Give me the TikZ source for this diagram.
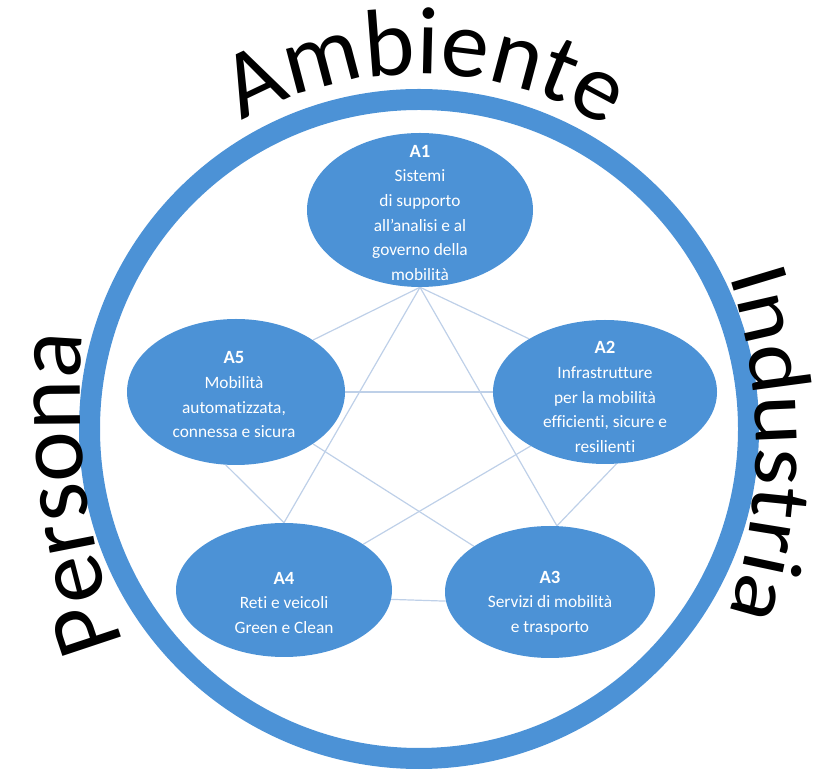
\documentclass[tikz,border=0pt]{standalone}
\usepackage{fontspec}
\setmainfont{Carlito}[Ligatures=NoCommon]
\newfontfamily\curvefont{Carlito}[Ligatures=NoCommon]
\newfontfamily\widecurvefont{Carlito}[Ligatures=NoCommon,FakeStretch=1.12]
\usetikzlibrary{shapes.geometric,decorations.text,calc,backgrounds}
\definecolor{mainblue}{RGB}{76,146,214}
\definecolor{linkblue}{RGB}{190,208,232}
\begin{document}
\begin{tikzpicture}[x=0.75pt,y=0.75pt,
  bubble/.style={ellipse, fill=mainblue, inner sep=0pt, draw=none},
  btext/.style={text=white, align=center, font=\fontsize{13pt}{18.5pt}\selectfont, inner sep=0pt},
  link/.style={draw=linkblue, line width=0.9pt},
  ring/.style={draw=mainblue, line width=15.75pt}
]
\useasboundingbox (0,0) rectangle (820,774);
\coordinate (C) at (419,345);
\coordinate (CP) at (778,374);
\coordinate (CI) at (206,329);
\draw[ring] (C) circle[radius=329.5];

\node[bubble, minimum width=169.5pt, minimum height=115.5pt] (a1) at (420,564) {};
\node[bubble, minimum width=168pt, minimum height=108pt] (a2) at (605,382) {};
\node[bubble, minimum width=163.5pt, minimum height=109.5pt] (a5) at (236,382) {};
\node[bubble, minimum width=162pt, minimum height=100.5pt] (a4) at (284,184) {};
\node[bubble, minimum width=157.5pt, minimum height=99pt] (a3) at (550,182) {};

\begin{scope}[on background layer]
\draw[link] (a1.south) -- (a5.34);
\draw[link] (a1.south) -- (a2.145);
\draw[link] (a1.south) -- (a4.north);
\draw[link] (a1.south) -- (a3.84);
\draw[link] (a5.east) -- (a2.west);
\draw[link] (a5.-34) -- (a3.149);
\draw[link] (a2.216) -- (a4.30);
\draw[link] (a5.-98) -- (a4.north);
\draw[link] (a2.-81) -- (a3.84);
\draw[link] (a4.-5) -- (a3.185);
\end{scope}

\node[btext] (t1) at (420,561) {{\bfseries\fontsize{14pt}{18.5pt}\selectfont A1}\\Sistemi\\di supporto\\all'analisi e al\\governo della\\mobilità};
\node[btext] (t2) at (605,377) {{\bfseries\fontsize{14pt}{18.5pt}\selectfont A2}\\Infrastrutture\\per la mobilità\\efficienti, sicure e\\resilienti};
\node[btext] (t5) at (234,379) {{\bfseries\fontsize{14pt}{18.5pt}\selectfont A5}\\Mobilità\\automatizzata,\\connessa e sicura};
\node[btext] (t4) at (284,171) {{\bfseries\fontsize{14pt}{18.5pt}\selectfont A4}\\Reti e veicoli\\Green e Clean};
\node[btext] (t3) at (550,171) {{\bfseries\fontsize{14pt}{18.5pt}\selectfont A3}\\Servizi di mobilità\\e trasporto};

\path[decorate, decoration={text along path, text align=center,
  text={|\curvefont\fontsize{72pt}{80pt}\selectfont|Ambiente}}]
  ($(C)+(122:355)$) arc[start angle=122, end angle=56, radius=355];
\path[decorate, decoration={text along path, text align=center,
  text={|\widecurvefont\fontsize{64pt}{76pt}\selectfont|Industria}}]
  ($(CI)+(25:550)$) arc[start angle=25, end angle=-25, radius=550];
\path[decorate, decoration={text along path, text align=center,
  text={|\curvefont\fontsize{72pt}{80pt}\selectfont|Persona}}]
  ($(CP)+(205:698)$) arc[start angle=205, end angle=170, radius=698];
\end{tikzpicture}
\end{document}
